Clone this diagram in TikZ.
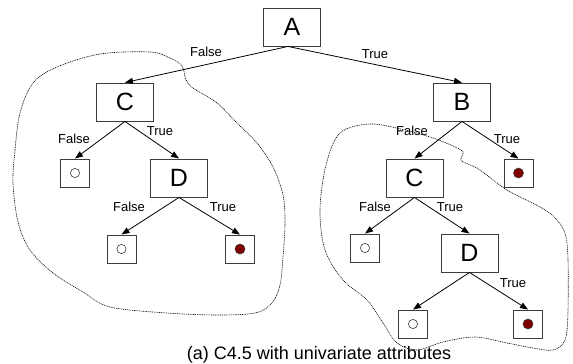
\documentclass[tikz,border=0pt]{standalone}
\usepackage{fontspec}
\newfontfamily\arialfont{Liberation Sans}
\definecolor{frame}{RGB}{60,60,60}
\definecolor{leafred}{RGB}{128,0,0}
\usepackage{tikz}
\usetikzlibrary{arrows.meta}
\tikzset{
  split/.style={draw=frame, line width=0.9pt, fill=white, inner sep=0pt,
              minimum width=57pt, minimum height=38pt,
              font=\arialfont\fontsize{25}{25}\selectfont},
  leaf/.style={draw=frame, line width=0.9pt, fill=white, inner sep=0pt,
              minimum width=29pt, minimum height=28pt},
  leafneg/.style={leaf, path picture={\draw[line width=0.6pt, fill=white]
              (path picture bounding box.center) circle (4.6pt);}},
  leafpos/.style={leaf, path picture={\draw[line width=0.6pt, fill=leafred]
              (path picture bounding box.center) circle (5pt);}},
  edgelbl/.style={inner sep=0pt, font=\arialfont\fontsize{13}{13}\selectfont},
  link/.style={-{Triangle[length=8pt,width=6pt]}, line width=0.8pt},
  blob/.style={line width=0.6pt, dash pattern=on 1pt off 0.8pt},
}

\begin{document}
\begin{tikzpicture}[x=1pt, y=-1pt]
        \useasboundingbox (0,0) rectangle (573,364);
        \draw[blob] plot[smooth cycle, tension=0.55] coordinates {
          (13,183) (15,150) (20,113) (33,83) (57,67) (100,54) (150,52) (170,58)
          (182,66) (186,80) (193,88) (217,103) (237,123) (257,143) (273,167)
          (283,195) (285,223) (283,257) (280,285) (272,303) (255,313) (217,315)
          (167,313) (110,307) (83,292) (53,273) (30,250) (18,222)};
        \draw[blob] plot[smooth cycle, tension=0.55] coordinates {
          (340,133) (370,124) (405,130) (433,138) (453,146) (463,152) (461,160)
          (470,165) (480,170) (507,190) (540,207) (557,220) (567,243) (568,310)
          (565,340) (553,350) (533,348) (507,343) (475,337) (443,342) (417,350)
          (397,343) (383,323) (367,300) (343,280) (325,250) (320,210) (326,165)};
        \node[split] (A) at (292,27) {A};
        \node[split] (C1) at (125,102) {C};
        \node[split] (B) at (462,102) {B};
        \node[leafneg] (L1) at (75,173) {};
        \node[split] (D1) at (179,178) {D};
        \node[leafneg] (L2) at (121.5,249) {};
        \node[leafpos] (L3) at (240,249) {};
        \node[split] (C2) at (414.5,178) {C};
        \node[leafpos] (L4) at (518.5,173) {};
        \node[leafneg] (L5) at (365,248) {};
        \node[split] (D2) at (469.5,253) {D};
        \node[leafneg] (L6) at (413,324) {};
        \node[leafpos] (L7) at (528,324) {};
        \draw[link] (A.south) ++(-4,0) coordinate (As) -- (C1.north);
        \draw[link] (As) -- (B.north);
        \draw[link] (C1.south) -- (L1.north);
        \draw[link] (C1.south) -- (D1.north);
        \draw[link] (D1.south) -- (L2.north);
        \draw[link] (D1.south) -- (L3.north);
        \draw[link] (B.south) -- (C2.north);
        \draw[link] (B.south) -- (L4.north);
        \draw[link] (C2.south) -- (L5.north);
        \draw[link] (C2.south) -- (D2.north);
        \draw[link] (D2.south) -- (L6.north);
        \draw[link] (D2.south) -- (L7.north);
        \node[edgelbl] (fAC) at (206,52) {False};
        \node[edgelbl] (tAB) at (375,54) {True};
        \node[edgelbl] (fC1) at (74,139) {False};
        \node[edgelbl] (tC1) at (160,131) {True};
        \node[edgelbl] (fD1) at (129,207) {False};
        \node[edgelbl] (tD1) at (223,207) {True};
        \node[edgelbl] (fB) at (412,131) {False};
        \node[edgelbl] (tB) at (507,139) {True};
        \node[edgelbl] (fC2) at (375,207) {False};
        \node[edgelbl] (tC2) at (450,207) {True};
        \node[edgelbl] (tD2) at (513,283) {True};
        \node[inner sep=0pt, anchor=base, font=\arialfont\fontsize{18}{18}\selectfont]
          (cap) at (319,359.5) {(a) C4.5 with univariate attributes};
      \end{tikzpicture}
\end{document}
